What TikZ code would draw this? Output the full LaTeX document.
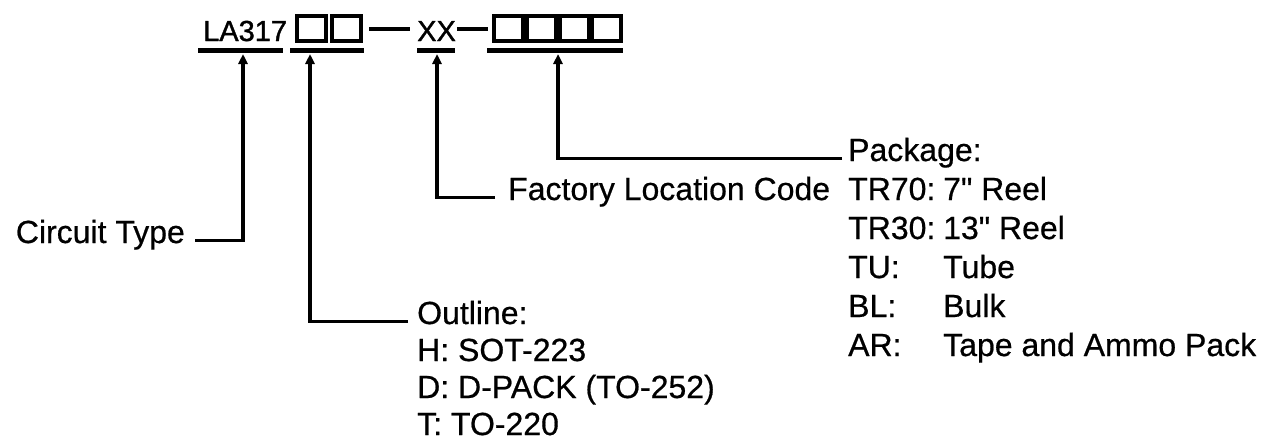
\documentclass[tikz,border=0pt]{standalone}
\usepackage{fontspec}
\setmainfont{Liberation Sans}
\newfontfamily\codefont[FakeBold=1.2]{Liberation Sans}
\newfontfamily\labelfont[FakeBold=0.6]{Liberation Sans}
\usetikzlibrary{arrows.meta,positioning}

\tikzset{
  code/.style={inner sep=0pt, anchor=base west, font=\codefont\fontsize{29}{34}\selectfont},
  slot/.style={draw, line width=4pt, minimum width=29pt, minimum height=25pt, inner sep=0pt},
  ubar/.style={line width=5pt},
  dashbar/.style={line width=4.5pt},
  lead/.style={line width=3.2pt, -{Triangle[width=9pt,length=10pt]}},
  txt/.style={inner sep=0pt, anchor=base west, font=\labelfont\fontsize{32}{38}\selectfont},
}

\begin{document}
\begin{tikzpicture}[x=1pt, y=-1pt]
    \useasboundingbox (0,0) rectangle (1268,445);

    % part number
    \node[code] (la) at (203,41) {LA317};
    \node[slot] (o1) at (311.5,28.5) {};
    \node[slot] (o2) at (346.5,28.5) {};
    \draw[dashbar] (369,29) -- (410,29);
    \node[code] (xx) at (417,41) {XX};
    \draw[dashbar] (457,29) -- (488,29);
    \node[slot] (p1) at (508.5,28.5) {};
    \node[slot] (p2) at (541.3,28.5) {};
    \node[slot] (p3) at (574.1,28.5) {};
    \node[slot] (p4) at (606.9,28.5) {};

    % underlines
    \draw[ubar] (198,50) -- (283,50);
    \draw[ubar] (290,50) -- (364,50);
    \draw[ubar] (417,50) -- (455,50);
    \draw[ubar] (487,50) -- (623,50);
    \coordinate (tip1) at (243,54);
    \coordinate (tip2) at (310,54);
    \coordinate (tip3) at (437,54);
    \coordinate (tip4) at (558,54);

    % circuit type
    \node[txt, anchor=base east] (ctype) at (185,243) {Circuit Type};
    \draw[lead] ([xshift=10pt]ctype.mid east) -| (tip1);

    % outline
    \node[txt] (outl) at (417,324) {Outline:};
    \node[txt] (outh) at (417,361) {H: SOT-223};
    \node[txt] (outd) at (417,398) {D: D-PACK (TO-252)};
    \node[txt] (outt) at (417,435) {T: TO-220};
    \draw[lead] ([xshift=-9pt]outl.mid west) -| (tip2);

    % factory
    \node[txt] (fact) at (508,200) {Factory Location Code};
    \draw[lead] ([xshift=-13pt]fact.mid west) -| (tip3);

    % package
    \node[txt] (pack) at (848,161) {Package:};
    \node[txt] (tr70) at (848,200) {TR70:};
    \node[txt] (tr70v) at (943,200) {7" Reel};
    \node[txt] (tr30) at (848,239) {TR30:};
    \node[txt] (tr30v) at (943,239) {13" Reel};
    \node[txt] (tu) at (848,278) {TU:};
    \node[txt] (tuv) at (943,278) {Tube};
    \node[txt] (bl) at (848,317) {BL:};
    \node[txt] (blv) at (943,317) {Bulk};
    \node[txt] (ar) at (848,356) {AR:};
    \node[txt] (arv) at (943,356) {Tape and Ammo Pack};
    \draw[lead] ([xshift=-6pt]pack.mid west) -| (tip4);
\end{tikzpicture}
\end{document}
